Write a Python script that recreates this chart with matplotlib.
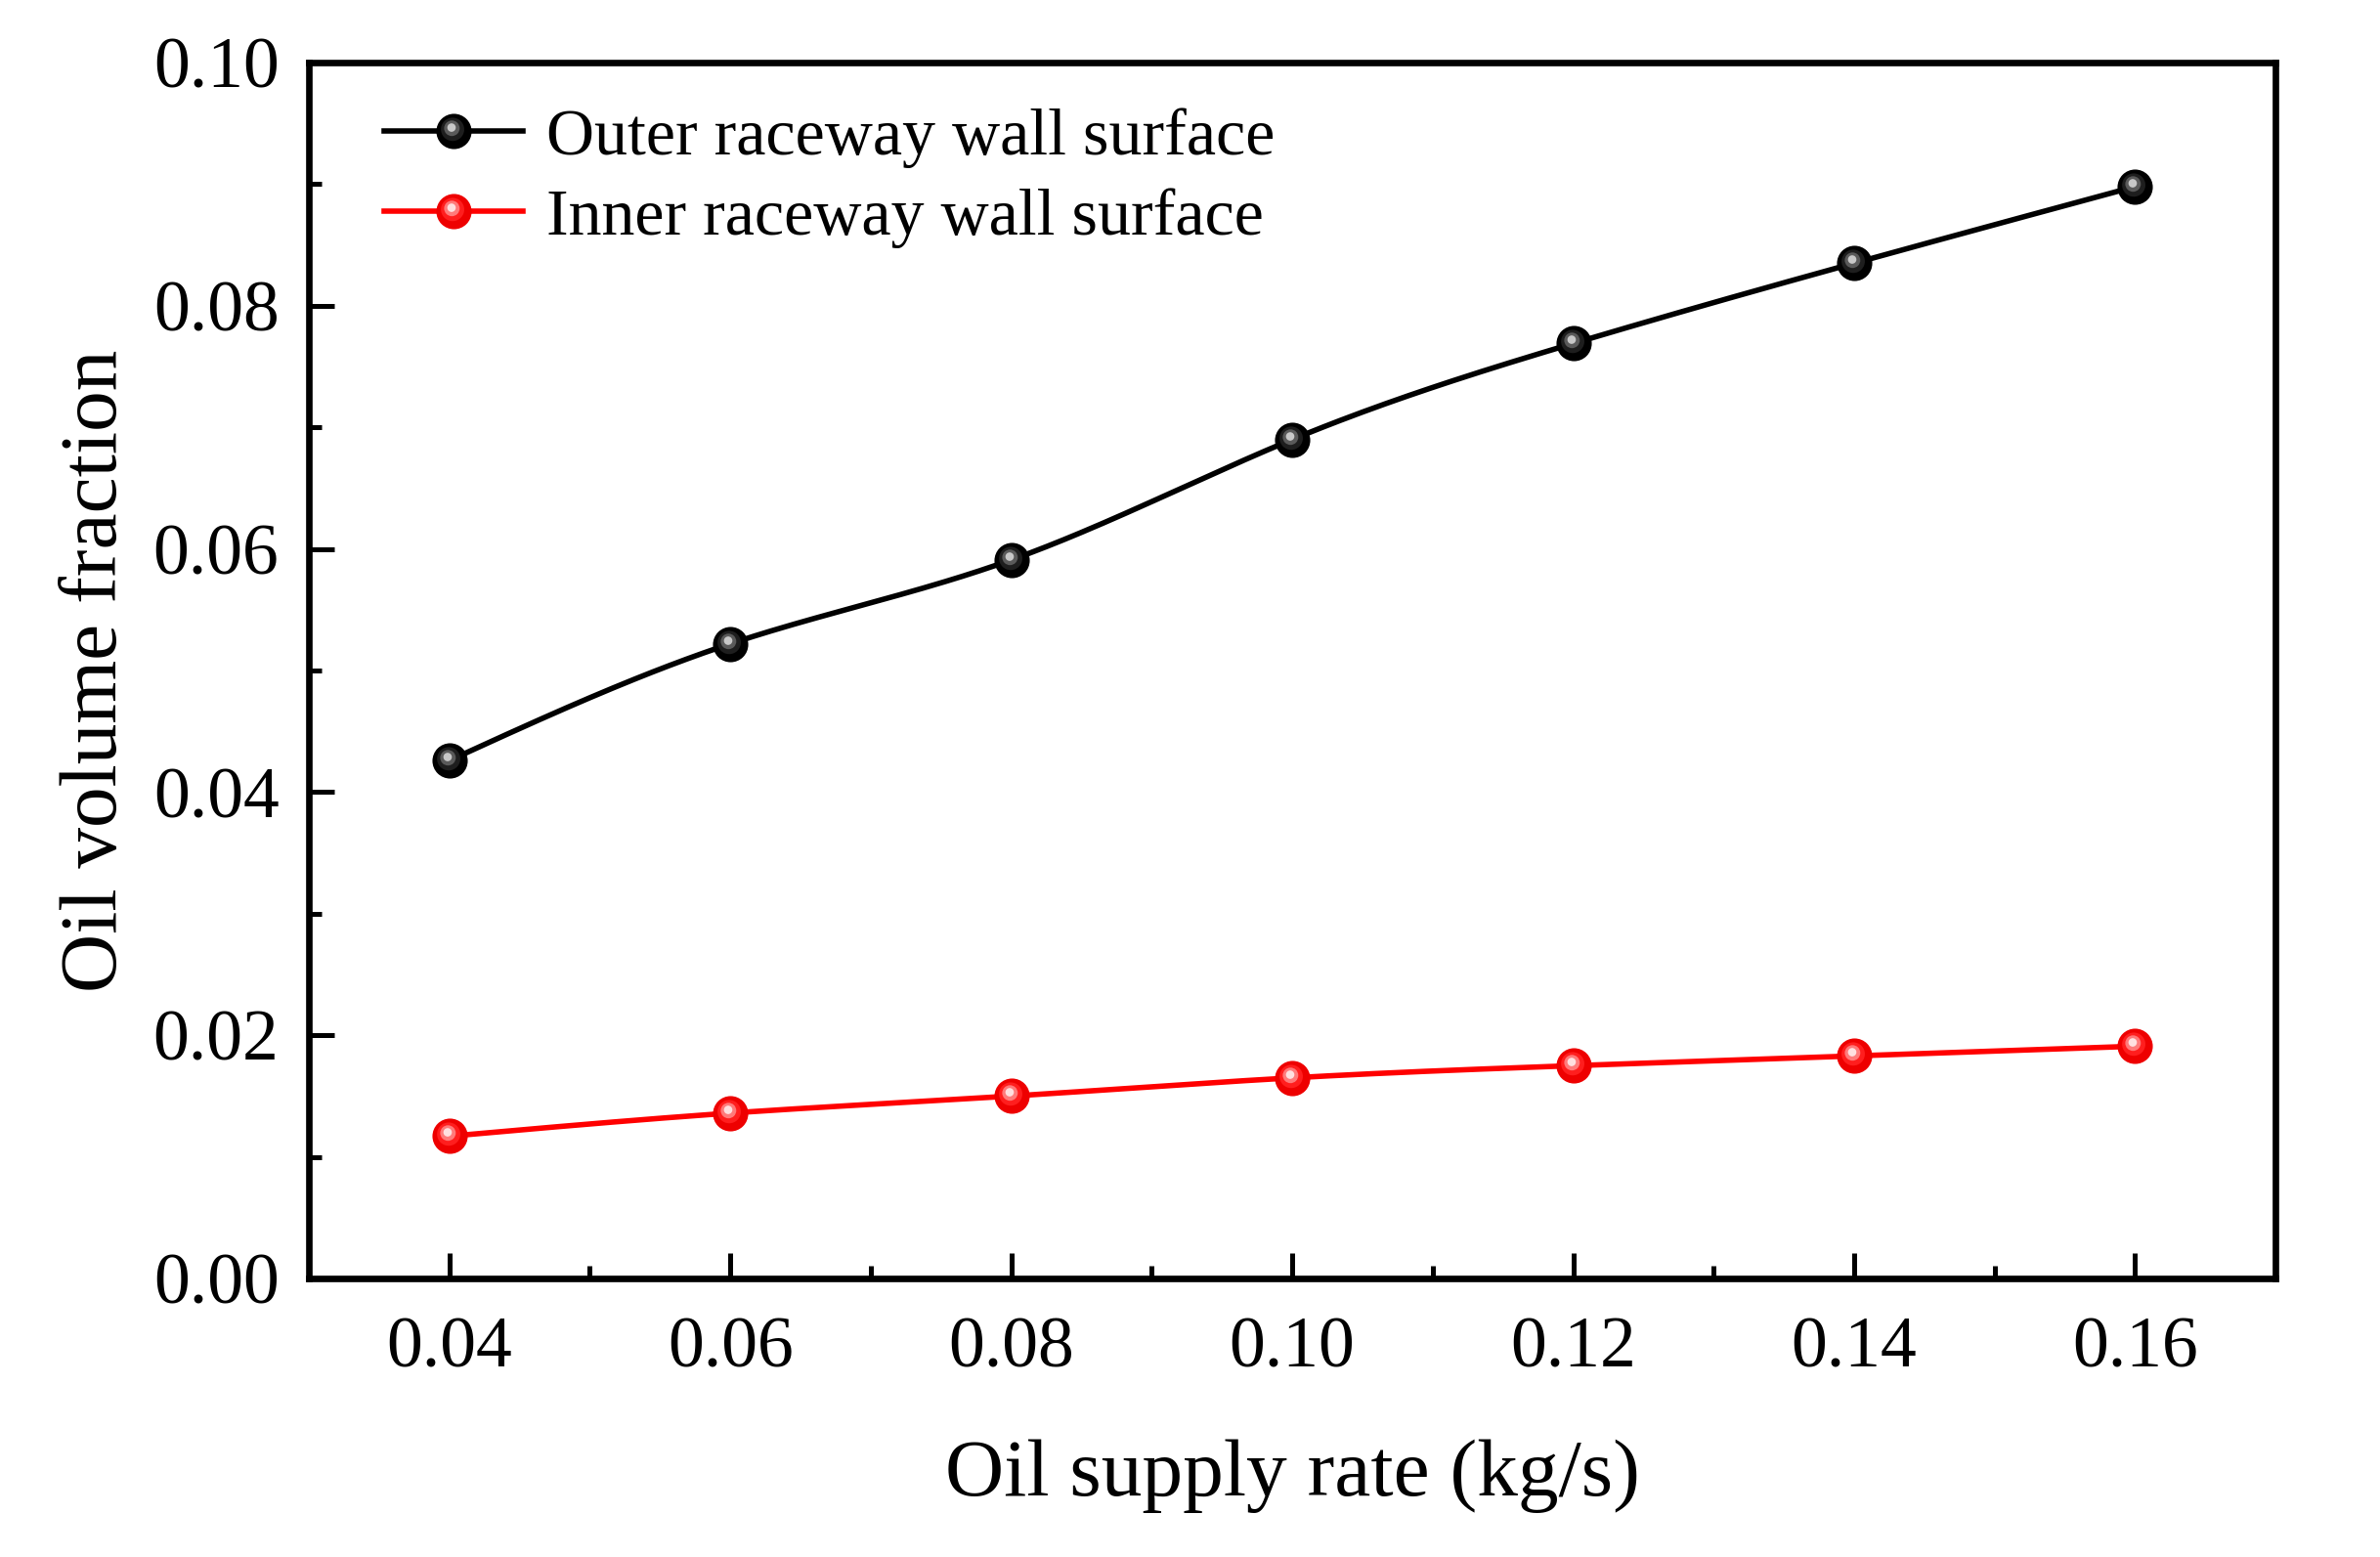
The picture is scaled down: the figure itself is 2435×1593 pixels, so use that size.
import numpy as np
import matplotlib
matplotlib.use('Agg')
import matplotlib.pyplot as plt
from matplotlib.path import Path
from matplotlib.legend_handler import HandlerTuple

plt.rcParams['font.family'] = ['Liberation Serif', 'DejaVu Serif']

# data
supply_rate = [0.04, 0.06, 0.08, 0.10, 0.12, 0.14, 0.16]
outer_wall = [0.0426, 0.0522, 0.0591, 0.0690, 0.0769, 0.0835, 0.0898]
inner_wall = [0.0117, 0.0136, 0.0150, 0.0165, 0.0175, 0.0183, 0.0191]

series_names = ['Outer raceway wall surface', 'Inner raceway wall surface']
x_ticks = [0.04, 0.06, 0.08, 0.10, 0.12, 0.14, 0.16]
y_ticks = [0.00, 0.02, 0.04, 0.06, 0.08, 0.10]


def spline_curve(x, y, n=300):
    # natural cubic spline, only used to draw the smooth connecting line
    x = np.asarray(x, float)
    y = np.asarray(y, float)
    k = len(x)
    h = np.diff(x)
    A = np.zeros((k, k))
    b = np.zeros(k)
    A[0, 0] = A[-1, -1] = 1
    for i in range(1, k-1):
        A[i, i-1] = h[i-1]
        A[i, i] = 2*(h[i-1]+h[i])
        A[i, i+1] = h[i]
        b[i] = 6*((y[i+1]-y[i])/h[i] - (y[i]-y[i-1])/h[i-1])
    M = np.linalg.solve(A, b)
    xs = np.linspace(x[0], x[-1], n)
    idx = np.clip(np.searchsorted(x, xs) - 1, 0, k-2)
    x0, x1 = x[idx], x[idx+1]
    hh = x1 - x0
    t0 = x1 - xs
    t1 = xs - x0
    ys = (M[idx]*t0**3 + M[idx+1]*t1**3)/(6*hh) \
        + (y[idx]/hh - M[idx]*hh/6)*t0 + (y[idx+1]/hh - M[idx+1]*hh/6)*t1
    return xs, ys


def ball_path(cx, cy, r):
    # circle marker path, padded with bare moves so every layer scales alike
    circ = Path.circle((cx, cy), r)
    verts = np.vstack([[[-1, -1]], [[1, 1]], circ.vertices])
    codes = np.concatenate([[Path.MOVETO, Path.MOVETO], circ.codes])
    return Path(verts, codes)


LAYERS = [(0.0, 0.0, 1.0), (-0.08, 0.12, 0.66), (-0.12, 0.18, 0.44), (-0.14, 0.22, 0.24)]


def draw_series(ax, x, y, color, shades, ms):
    xs, ys = spline_curve(x, y)
    ax.plot(xs, ys, color=color, lw=2.0, zorder=2)
    handles = [ax.plot([], [], color=color, lw=2.0)[0]]
    for (cx, cy, r), c in zip(LAYERS, shades):
        m = ball_path(cx, cy, r)
        ax.plot(x, y, ls='none', marker=m, ms=ms, mfc=c, mew=0, zorder=3)
        handles.append(ax.plot([], [], ls='none', marker=m, ms=ms, mfc=c, mew=0)[0])
    return tuple(handles)


fig = plt.figure(figsize=(12.175, 7.965), dpi=200)
ax = fig.add_axes([0.1298, 0.1789, 0.8263, 0.7809])

ms = 13
h_outer = draw_series(ax, supply_rate, outer_wall, 'black',
                      ['#000000', '#1e1e1e', '#5a5a5a', '#c8c8c8'], ms)
h_inner = draw_series(ax, supply_rate, inner_wall, '#ff0000',
                      ['#ee0000', '#ff1e1e', '#ff7a7a', '#ffe0e0'], ms)

ax.set_xlim(0.03, 0.17)
ax.set_ylim(0.0, 0.10)
ax.set_xticks(x_ticks)
ax.set_xticklabels(['%.2f' % v for v in x_ticks])
ax.set_yticks(y_ticks)
ax.set_yticklabels(['%.2f' % v for v in y_ticks])
ax.set_xticks(np.arange(0.05, 0.17, 0.02), minor=True)
ax.set_yticks(np.arange(0.01, 0.10, 0.02), minor=True)

ax.tick_params(which='both', direction='in', top=False, right=False, width=1.8)
ax.tick_params(which='major', length=9.5)
ax.tick_params(which='minor', length=4.7)
ax.tick_params(axis='x', which='major', labelsize=26.5, pad=14)
ax.tick_params(axis='y', which='major', labelsize=26.5, pad=11)
for sp in ax.spines.values():
    sp.set_linewidth(2.4)

ax.set_xlabel('Oil supply rate (kg/s)', fontsize=30, labelpad=21)
ax.set_ylabel('Oil volume fraction', fontsize=30, labelpad=7)

ax.legend([h_outer, h_inner], series_names,
          handler_map={tuple: HandlerTuple(ndivide=1, pad=0)},
          loc='upper left', bbox_to_anchor=(0.038, 0.963), frameon=False,
          fontsize=24.5, handlelength=2.1, handletextpad=0.35,
          labelspacing=0.3, borderpad=0, borderaxespad=0, numpoints=1)

fig.savefig('out.png', dpi=200)
